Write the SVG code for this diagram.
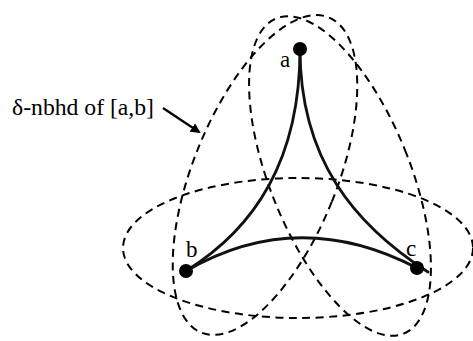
<svg xmlns="http://www.w3.org/2000/svg" width="473" height="341" viewBox="0 0 473 341">
  <style>
    .nbhd { fill: none; stroke: #000; stroke-width: 2; stroke-dasharray: 8 5.5; }
    .edge { fill: none; stroke: #111; stroke-width: 2.8; stroke-linecap: round; }
    .dot { fill: #000; }
    .lbl { font-family: 'Liberation Serif', 'DejaVu Serif', serif; font-size: 23px; fill: #000; }
  </style>
  <defs>
    <marker id="arrow" markerWidth="10" markerHeight="10" refX="8" refY="5" orient="auto" markerUnits="userSpaceOnUse">
      <path d="M0,0 L10,5 L0,10 Z" fill="#000"/>
    </marker>
  </defs>
  <rect width="473" height="341" fill="#fff"/>
  <g id="neighbourhoods">
    <ellipse id="nbhd-ac" class="nbhd" cx="340" cy="176" rx="70" ry="170" transform="rotate(-22 340 176)"/>
    <ellipse id="nbhd-ab" class="nbhd" cx="265" cy="175" rx="72" ry="170" transform="rotate(22 265 175)"/>
    <ellipse id="nbhd-bc" class="nbhd" cx="298" cy="248" rx="175" ry="70"/>
  </g>
  <g id="connectors">
    <path class="edge" d="M300,49 C300,160 255,228 186,271"/>
    <path class="edge" d="M300,49 C300,160 355,225 428,272"/>
    <path class="edge" d="M186,271 Q298,206 417,268"/>
    <line x1="163" y1="108" x2="199" y2="132" stroke="#000" stroke-width="2.2" marker-end="url(#arrow)"/>
  </g>
  <g id="node-a">
    <circle class="dot" cx="300" cy="49" r="7"/>
    <text class="lbl" x="280" y="67">a</text>
  </g>
  <g id="node-b">
    <circle class="dot" cx="186" cy="271" r="7"/>
    <text class="lbl" x="186" y="257">b</text>
  </g>
  <g id="node-c">
    <circle class="dot" cx="417" cy="268" r="7"/>
    <text class="lbl" x="406" y="256">c</text>
  </g>
  <g id="label">
    <text class="lbl" x="12" y="115" textLength="142" lengthAdjust="spacingAndGlyphs">δ-nbhd of [a,b]</text>
  </g>
</svg>
